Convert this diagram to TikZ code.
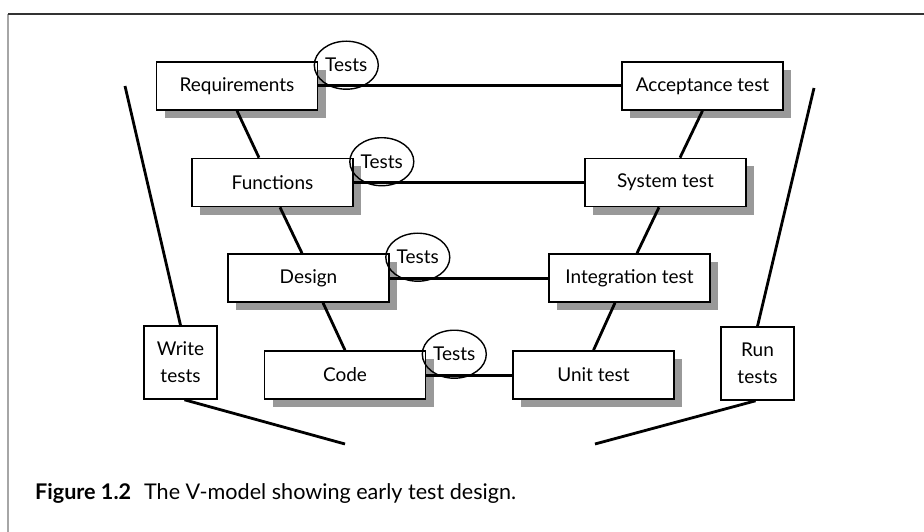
\documentclass[tikz,border=0pt]{standalone}
\usepackage{fontspec}
\setmainfont{Lato}
\usetikzlibrary{shapes.geometric,shadows}
\pgfdeclarelayer{background layer}
\pgfsetlayers{background layer,main}
\tikzstyle{stage}=[rectangle,draw=black,fill=white,line width=1.6pt,minimum width=161pt,minimum height=48pt,inner sep=0pt,general shadow={fill=black!40,shadow xshift=8pt,shadow yshift=-8pt},font=\fontsize{19}{21}\selectfont]
\tikzstyle{task}=[rectangle,draw=black,fill=white,line width=1.6pt,minimum size=73pt,inner sep=0pt,align=center,font=\fontsize{19}{27}\selectfont]
\tikzstyle{tests}=[ellipse,draw=black,line width=1.4pt,minimum width=64pt,minimum height=48pt,inner sep=0pt,font=\fontsize{19}{21}\selectfont]
\tikzstyle{link}=[line width=3pt]
\tikzstyle{vline}=[line width=2.8pt]

\begin{document}
\begin{tikzpicture}[x=1pt,y=-1pt]
			\useasboundingbox (0,0) rectangle (924,532);
			% page frame
			\draw[black!35,line width=1.5pt] (8,532) -- (8,14);
			\draw[black!80,line width=2pt] (8,14) -- (924,14);
			% left side
			\node at (237,86) [stage] (req) {Requirements};
			\node at (272.5,182.5) [stage] (func) {Functions};
			\node at (308.5,278) [stage] (des) {Design};
			\node at (345,375) [stage] (code) {Code};
			% right side
			\node at (702.5,86) [stage] (acc) {Acceptance test};
			\node at (665.5,182.5) [stage] (sys) {System test};
			\node at (629.5,278) [stage] (int) {Integration test};
			\node at (593.5,375) [stage] (unit) {Unit test};
			% outer boxes
			\node at (180.5,362.5) [task] (write) {Write\\tests};
			\node at (757.5,363.5) [task] (run) {Run\\tests};
			% tests ellipses
			\node at ([xshift=28pt,yshift=-4pt]req.north east) [tests] (treq) {Tests};
			\node at ([xshift=28pt,yshift=-4pt]func.north east) [tests] (tfunc) {Tests};
			\node at ([xshift=28pt,yshift=-4pt]des.north east) [tests] (tdes) {Tests};
			\node at ([xshift=28pt,yshift=-4pt]code.north east) [tests] (tcode) {Tests};
			% V lines
			\coordinate (lt) at (125,86);
			\coordinate (lb) at (345,444);
			\coordinate (rt) at (814,88);
			\coordinate (rb) at (595,444);
			\draw[vline] (lt) -- (write.north);
			\draw[vline] ([xshift=4pt]write.south) -- (lb);
			\draw[vline] (rt) -- (run.north);
			\draw[vline] ([xshift=-2pt]run.south) -- (rb);
			% down the V
			\draw[vline] (req.south) -- ([xshift=-13.5pt]func.north);
			\draw[vline] ([xshift=7.5pt]func.south) -- ([xshift=-6.5pt]des.north);
			\draw[vline] ([xshift=14.5pt]des.south) -- (code.north);
			\draw[vline] (acc.south) -- ([xshift=14.5pt]sys.north);
			\draw[vline] ([xshift=-6.5pt]sys.south) -- ([xshift=7.5pt]int.north);
			\draw[vline] ([xshift=-14.5pt]int.south) -- (unit.north);
			% across
			\draw[link] (req.east) -- (acc.west);
			\draw[link] (func.east) -- (sys.west);
			\draw[link] (des.east) -- (int.west);
			\draw[link] (code.east) -- (unit.west);
			% caption
			\node at (35,499) [anchor=base west,inner sep=0pt,font=\fontsize{21.6}{24}\selectfont] (cap) {\textbf{Figure 1.2}\hspace{0.6em}The V-model showing early test design.};
		\end{tikzpicture}
\end{document}
